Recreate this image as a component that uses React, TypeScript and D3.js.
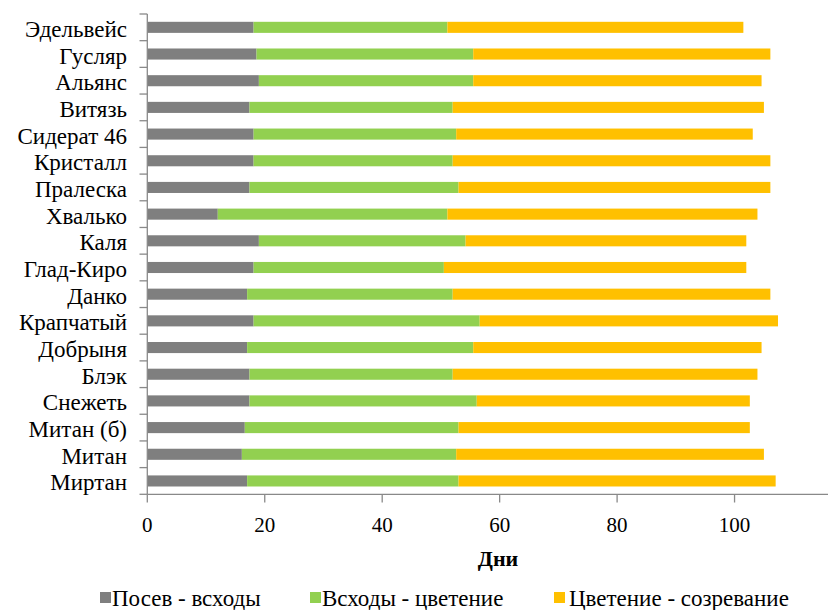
import React from "react";
import * as d3 from "d3";

const categories = [
  "Эдельвейс", "Гусляр", "Альянс", "Витязь", "Сидерат 46", "Кристалл", "Пралеска",
  "Хвалько", "Каля", "Глад-Киро", "Данко", "Крапчатый", "Добрыня", "Блэк",
  "Снежеть", "Митан (б)", "Митан", "Миртан",
];
const sowingEmergence = [18.1, 18.6, 19.0, 17.4, 18.1, 18.1, 17.4, 12.0, 19.0, 18.1, 17.0, 18.1, 17.0, 17.4, 17.4, 16.6, 16.1, 17.0];
const emergenceFlowering = [33.0, 36.9, 36.5, 34.6, 34.5, 33.9, 35.6, 39.1, 35.2, 32.4, 35.0, 38.5, 38.5, 34.6, 38.7, 36.4, 36.5, 36.0];
const floweringRipening = [50.4, 50.6, 49.1, 53.0, 50.5, 54.1, 53.1, 52.8, 47.8, 51.5, 54.1, 50.8, 49.1, 51.9, 46.5, 49.6, 52.4, 54.0];
const seriesNames = ["Посев - всходы", "Всходы - цветение", "Цветение - созревание"];
const seriesColors = ["#7f7f7f", "#92d050", "#ffc000"];
const xTicks = [0, 20, 40, 60, 80, 100];
const xTitle = "Дни";

const W = 828, H = 610;
const FONT = "'Liberation Serif', 'Times New Roman', serif";

export default function App() {
  const x = d3.scaleLinear().domain([0, 120]).range([147.3, 852]);
  const y = d3.scaleBand().domain(categories).range([14, 494.3]).paddingInner(0.585).paddingOuter(0.2925);
  const rows = categories.map((c, i) => ({
    cat: c,
    s0: sowingEmergence[i],
    s1: emergenceFlowering[i],
    s2: floweringRipening[i],
  }));
  const stack = d3.stack<any>().keys(["s0", "s1", "s2"])(rows);
  const step = y.step();
  const axisColor = "#898989";
  const legendItems = [
    { sx: 100, tx: 112 },
    { sx: 310, tx: 322 },
    { sx: 554, tx: 569 },
  ];
  return (
    <svg width={W} height={H} style={{ position: "absolute", left: 0, top: 0, background: "#fff", fontFamily: FONT }}>
      {stack.map((layer, li) => (
        <g key={li} fill={seriesColors[li]}>
          {layer.map((d, i) => (
            <rect key={i} x={x(d[0])} y={y(categories[i])!} width={x(d[1]) - x(d[0])} height={y.bandwidth()} />
          ))}
        </g>
      ))}
      <line x1={147.3} x2={147.3} y1={14} y2={494.3} stroke={axisColor} strokeWidth={1.3} />
      {d3.range(categories.length + 1).map((i) => (
        <line key={i} x1={139.5} x2={147.3} y1={14 + i * step} y2={14 + i * step} stroke={axisColor} strokeWidth={1.3} />
      ))}
      {categories.map((c) => (
        <text key={c} x={127} y={y(c)! + y.bandwidth() / 2 + 9.5} textAnchor="end" fontSize={23} fill="#000">
          {c}
        </text>
      ))}
      <line x1={147.3} x2={852} y1={494.3} y2={494.3} stroke={axisColor} strokeWidth={1.3} />
      {xTicks.map((t) => (
        <g key={t}>
          <line x1={x(t)} x2={x(t)} y1={494.3} y2={502.5} stroke={axisColor} strokeWidth={1.3} />
          <text x={x(t)} y={532} textAnchor="middle" fontSize={21} fill="#000">{t}</text>
        </g>
      ))}
      <text x={498} y={566} textAnchor="middle" fontSize={22} fontWeight="bold" fill="#000">{xTitle}</text>
      {seriesNames.map((n, i) => (
        <g key={n}>
          <rect x={legendItems[i].sx} y={592} width={11} height={11} fill={seriesColors[i]} />
          <text x={legendItems[i].tx} y={606} fontSize={23} fill="#000">{n}</text>
        </g>
      ))}
    </svg>
  );
}
